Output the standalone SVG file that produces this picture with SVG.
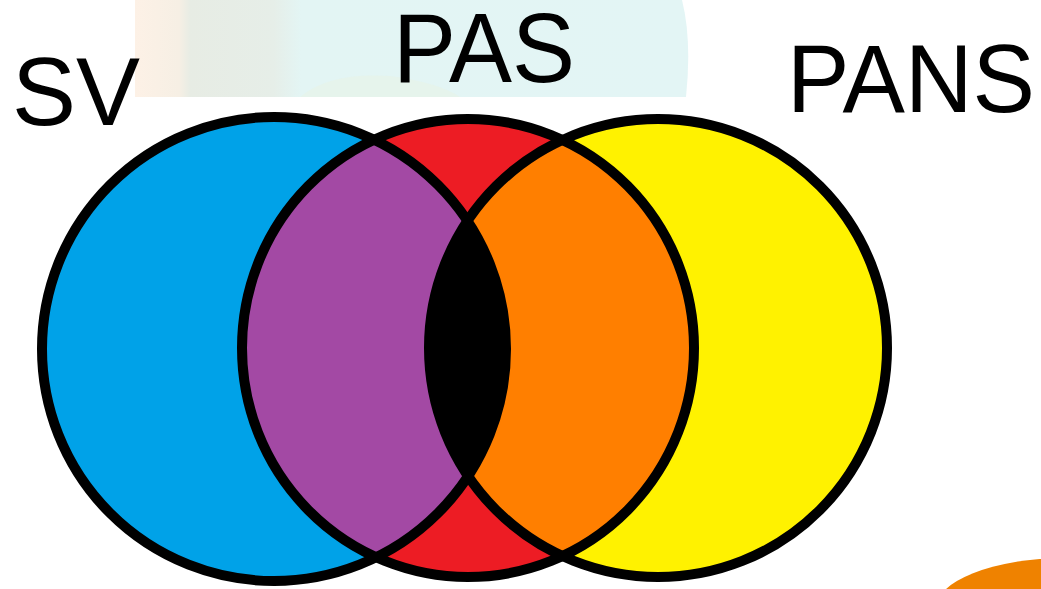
<svg xmlns="http://www.w3.org/2000/svg" width="1041" height="589" viewBox="0 0 1041 589">
  <defs>
    <style>
      .lbl { font-family: "Liberation Sans", Arial, sans-serif; fill: #000; }
      .ring { fill: none; stroke: #000; stroke-width: 10; }
    </style>
    <clipPath id="clipL"><circle cx="274" cy="349" r="232"/></clipPath>
    <clipPath id="clipR"><circle cx="658" cy="348" r="229"/></clipPath>
    <linearGradient id="bgfade" x1="0" y1="0" x2="1" y2="0">
      <stop offset="0" stop-color="#fdf1e6"/>
      <stop offset="0.08" stop-color="#f6efe4"/>
      <stop offset="0.1" stop-color="#e7ece4"/>
      <stop offset="0.25" stop-color="#e6eee8"/>
      <stop offset="0.3" stop-color="#e3f5f4"/>
      <stop offset="1" stop-color="#e3f5f5"/>
    </linearGradient>
  </defs>

  <rect width="1041" height="589" fill="#fff"/>

  <g id="background">
    <path d="M135,0 H682 Q692,40 686,97 H135 Z" fill="url(#bgfade)"/>
    <path d="M300,97 Q330,72 390,76 Q440,83 460,97 Z" fill="#e8f3e6" opacity="0.6"/>
    <ellipse cx="1065" cy="610" rx="130" ry="52" fill="#ef8200"/>
  </g>

  <g id="sv">
    <circle cx="274" cy="349" r="232" fill="#00a2e8"/>
  </g>
  <g id="pas">
    <ellipse cx="468" cy="348" rx="226" ry="229" fill="#ed1c24"/>
  </g>
  <g id="pans">
    <circle cx="658" cy="348" r="229" fill="#fff200"/>
  </g>

  <g id="overlaps">
    <ellipse cx="468" cy="348" rx="226" ry="229" fill="#a349a4" clip-path="url(#clipL)"/>
    <ellipse cx="468" cy="348" rx="226" ry="229" fill="#ff7f00" clip-path="url(#clipR)"/>
    <g clip-path="url(#clipL)">
      <circle cx="658" cy="348" r="229" fill="#000"/>
    </g>
  </g>

  <g id="outlines">
    <circle class="ring" cx="274" cy="349" r="232"/>
    <ellipse class="ring" cx="468" cy="348" rx="226" ry="229"/>
    <circle class="ring" cx="658" cy="348" r="229"/>
  </g>

  <g id="labels">
    <text class="lbl" x="12" y="125" font-size="97" textLength="128" lengthAdjust="spacingAndGlyphs">SV</text>
    <text class="lbl" x="393" y="82" font-size="99" textLength="182" lengthAdjust="spacingAndGlyphs">PAS</text>
    <text class="lbl" x="787" y="112" font-size="97" textLength="248" lengthAdjust="spacingAndGlyphs">PANS</text>
  </g>
</svg>
